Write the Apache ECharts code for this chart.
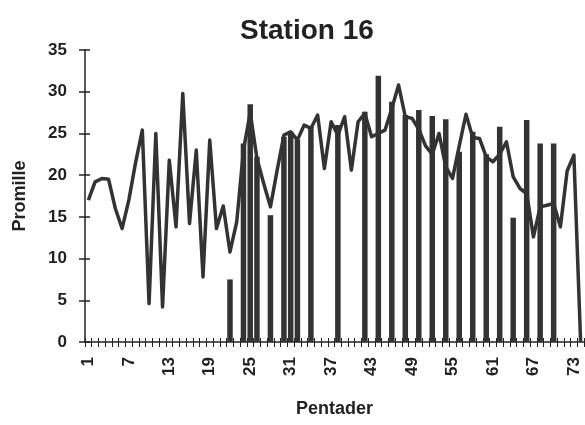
<!DOCTYPE html>
<html>
<head>
<meta charset="utf-8">
<script src="https://cdn.jsdelivr.net/npm/echarts@6/dist/echarts.min.js"></script>
<style>html,body{margin:0;padding:0;background:#fff}#c{width:585px;height:425px}</style>
</head>
<body>
<div id="c"></div>
<script>
var categories = ['1','2','3','4','5','6','7','8','9','10','11','12','13','14','15','16','17','18','19','20',
'21','22','23','24','25','26','27','28','29','30','31','32','33','34','35','36','37','38','39','40',
'41','42','43','44','45','46','47','48','49','50','51','52','53','54','55','56','57','58','59','60',
'61','62','63','64','65','66','67','68','69','70','71','72','73','74'];

var lineValues = [17, 19.2, 19.6, 19.5, 16, 13.6, 17, 21.5, 25.4, 4.6,
25, 4.2, 21.8, 13.8, 29.8, 14.2, 23, 7.8, 24.2, 13.6,
16.3, 10.8, 14.4, 23, 27.5, 22, 19, 16.2, 20.6, 24.8,
25.2, 24.2, 26, 25.6, 27.2, 20.8, 26.4, 24.8, 27, 20.6,
26.4, 27.4, 24.6, 25, 25.4, 28, 30.8, 27, 26.8, 25.5,
23.5, 22.5, 25, 21, 19.6, 23.5, 27.3, 24.5, 24.4, 22.2,
21.6, 22.5, 24, 19.8, 18.4, 17.8, 12.6, 16.2, 16.4, 16.6,
13.8, 20.5, 22.4, 0];

var barValues = [null, null, null, null, null, null, null, null, null, null,
null, null, null, null, null, null, null, null, null, null,
null, 7.5, null, 23.8, 28.5, 22.2, null, 15.2, null, 24.6,
25.2, 24.2, null, 25.8, null, null, null, 26, null, null,
null, 27.6, null, 31.9, null, 28.8, null, 27.2, null, 27.8,
null, 27.1, null, 26.7, null, 22.8, null, 25.2, null, 22.5,
null, 25.8, null, 14.9, null, 26.6, null, 23.8, null, 23.8,
null, null, null, null];

var yTicks = [0, 5, 10, 15, 20, 25, 30, 35];

var chart = echarts.init(document.getElementById('c'), null, {renderer: 'canvas'});
var font = 'Liberation Sans, Arial, Helvetica, sans-serif';
var ink = '#222222';
chart.setOption({
  animation: false,
  backgroundColor: '#fff',
  title: {
    text: 'Station 16',
    left: 235,
    top: 12,
    textStyle: {fontFamily: font, fontWeight: 'bold', fontSize: 28, color: ink}
  },
  grid: {left: 85, right: 1, top: 50, bottom: 83, containLabel: false},
  xAxis: [{
    type: 'category',
    data: categories,
    boundaryGap: true,
    name: 'Pentader',
    nameLocation: 'middle',
    nameGap: 58,
    nameTextStyle: {fontFamily: font, fontWeight: 'bold', fontSize: 18, color: ink},
    axisLine: {lineStyle: {color: ink, width: 1.5}},
    axisTick: {show: true, interval: 0, length: 5, lineStyle: {color: ink, width: 1}},
    axisLabel: {interval: 5, rotate: 90, margin: 15, fontFamily: font, fontWeight: 'bold', fontSize: 17, color: ink}
  }, {
    type: 'category',
    data: categories,
    boundaryGap: true,
    position: 'bottom',
    axisLine: {show: false},
    axisTick: {show: true, inside: true, interval: 0, length: 4, lineStyle: {color: ink, width: 1}},
    axisLabel: {show: false}
  }],
  yAxis: [{
    type: 'value',
    min: 0, max: 35, interval: 5,
    name: 'Promille',
    nameLocation: 'middle',
    nameGap: 56,
    nameTextStyle: {fontFamily: font, fontWeight: 'bold', fontSize: 18, color: ink},
    axisLine: {show: true, lineStyle: {color: ink, width: 1.5}},
    axisTick: {show: true, length: 6, lineStyle: {color: ink, width: 1.5}},
    splitLine: {show: false},
    axisLabel: {margin: 18, fontFamily: font, fontWeight: 'bold', fontSize: 17, color: ink,
      formatter: function (v) { return yTicks.indexOf(v) >= 0 ? String(v) : ''; }}
  }, {
    type: 'value',
    min: 0, max: 35, interval: 5,
    position: 'left',
    axisLine: {show: false},
    axisTick: {show: true, inside: true, length: 5, lineStyle: {color: ink, width: 1.5}},
    axisLabel: {show: false},
    splitLine: {show: false}
  }],
  series: [{
    type: 'bar',
    data: barValues,
    xAxisIndex: 0, yAxisIndex: 0,
    barWidth: 5.5,
    itemStyle: {color: '#333333'}
  }, {
    type: 'line',
    data: lineValues,
    xAxisIndex: 0, yAxisIndex: 0,
    symbol: 'none',
    lineStyle: {color: '#333333', width: 3.5, join: 'round'}
  }]
});
</script>
</body>
</html>
